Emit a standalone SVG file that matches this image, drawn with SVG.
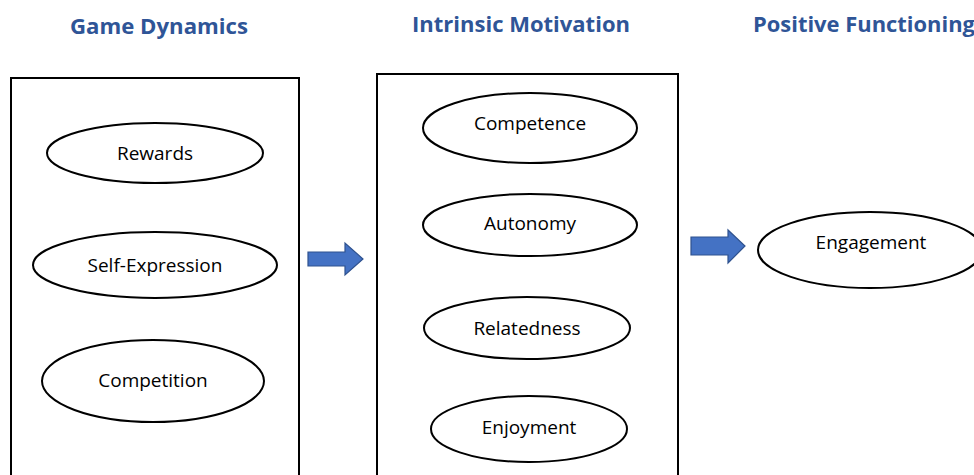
<svg xmlns="http://www.w3.org/2000/svg" width="974" height="475" viewBox="0 0 974 475">
<style>
.title{font-family:"Open Sans","Liberation Sans",sans-serif;font-weight:bold;font-size:21px;fill:#2F5597;text-anchor:middle}
.box{fill:none;stroke:#000;stroke-width:2}
.ell{fill:#fff;stroke:#000;stroke-width:2}
.lbl{font-family:"Open Sans","Liberation Sans",sans-serif;font-size:19px;fill:#000;text-anchor:middle;dominant-baseline:central}
.arr{fill:#4472C4;stroke:#2F528F;stroke-width:1.2}
</style>
<rect width="974" height="475" fill="#fff"/>
<text class="title" x="159" y="34" textLength="178" lengthAdjust="spacingAndGlyphs">Game Dynamics</text>
<text class="title" x="521" y="32" textLength="218" lengthAdjust="spacingAndGlyphs">Intrinsic Motivation</text>
<text class="title" x="864" y="32" textLength="222" lengthAdjust="spacingAndGlyphs">Positive Functioning</text>
<g id="game-dynamics">
<rect class="box" x="11" y="78" width="288" height="410"/>
<g id="rewards"><ellipse class="ell" cx="155" cy="153" rx="108" ry="30"/><text class="lbl" x="155" y="153">Rewards</text></g>
<g id="self-expression"><ellipse class="ell" cx="155" cy="265" rx="122" ry="33"/><text class="lbl" x="155" y="265">Self-Expression</text></g>
<g id="competition"><ellipse class="ell" cx="153" cy="381" rx="111" ry="41"/><text class="lbl" x="153" y="380">Competition</text></g>
</g>
<g id="intrinsic-motivation">
<rect class="box" x="377" y="74" width="301" height="414"/>
<g id="competence"><ellipse class="ell" cx="530" cy="128" rx="107" ry="35"/><text class="lbl" x="530" y="123">Competence</text></g>
<g id="autonomy"><ellipse class="ell" cx="530" cy="225" rx="107" ry="31"/><text class="lbl" x="530" y="223">Autonomy</text></g>
<g id="relatedness"><ellipse class="ell" cx="527" cy="328" rx="103" ry="31"/><text class="lbl" x="527" y="328">Relatedness</text></g>
<g id="enjoyment"><ellipse class="ell" cx="529" cy="429" rx="98" ry="33"/><text class="lbl" x="529" y="427">Enjoyment</text></g>
</g>
<g id="engagement"><ellipse class="ell" cx="870" cy="250" rx="112" ry="38"/><text class="lbl" x="871" y="242">Engagement</text></g>
<g id="connectors">
<polygon class="arr" points="308,252 345,252 345,243 363,259 345,275 345,266 308,266"/>
<polygon class="arr" points="691,237 728,237 728,230 745,246 728,263 728,255 691,255"/>
</g>
</svg>
